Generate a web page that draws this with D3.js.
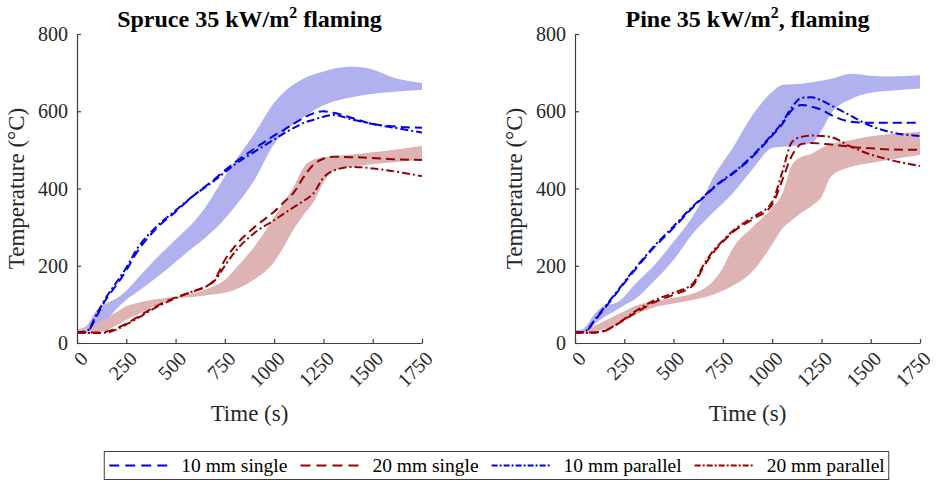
<!DOCTYPE html>
<html>
<head>
<meta charset="utf-8">
<script src="https://cdn.jsdelivr.net/npm/d3@7"></script>
<style>
  body { margin: 0; background: #fff; }
</style>
</head>
<body>
<div id="chart"></div>
<script>
// time grid (s), shared by every series
var timeGrid = [0, 50, 100, 150, 200, 250, 300, 400, 500, 600, 650, 700, 750, 800, 900, 1000, 1050, 1100, 1150, 1200, 1250, 1300, 1400, 1500, 1600, 1750];

// Spruce, temperatures in degC
var spruceBand10Hi = [28, 45, 85, 103, 115, 135, 163, 218, 268, 318, 350, 390, 432, 470, 542, 622, 650, 670, 685, 695, 703, 710, 715, 708, 688, 673];
var spruceBand10Lo = [27, 29, 38, 60, 88, 112, 130, 168, 210, 252, 272, 295, 322, 352, 422, 515, 545, 567, 585, 602, 615, 625, 637, 645, 650, 655];
var spruceBand20Hi = [35, 42, 52, 65, 80, 95, 103, 113, 120, 130, 138, 148, 163, 190, 250, 325, 365, 405, 455, 475, 481, 484, 488, 494, 500, 510];
var spruceBand20Lo = [25, 25, 28, 33, 45, 60, 72, 97, 115, 120, 123, 126, 130, 138, 165, 210, 250, 295, 332, 365, 415, 445, 457, 463, 468, 474];
var spruce10Single = [27, 29, 70, 115, 150, 188, 232, 295, 340, 385, 405, 425, 447, 467, 503, 537, 552, 568, 583, 595, 600, 596, 582, 567, 561, 557];
var spruce20Single = [27, 27, 27, 30, 38, 50, 65, 95, 118, 135, 145, 165, 215, 250, 300, 340, 365, 390, 430, 462, 477, 482, 481, 479, 476, 474];
var spruce10Parallel = [27, 31, 75, 120, 157, 195, 240, 300, 343, 385, 403, 422, 442, 462, 495, 527, 543, 557, 570, 578, 586, 590, 578, 567, 558, 545];
var spruce20Parallel = [27, 26, 26, 27, 35, 48, 62, 92, 116, 136, 145, 162, 200, 235, 285, 318, 335, 352, 368, 388, 428, 446, 456, 452, 445, 432];

// Pine
var pineBand10Hi = [28, 40, 75, 97, 102, 120, 150, 200, 262, 330, 375, 428, 468, 505, 590, 650, 668, 670, 671, 675, 679, 684, 697, 692, 690, 693];
var pineBand10Lo = [27, 32, 50, 68, 82, 98, 112, 160, 215, 285, 312, 338, 362, 388, 450, 505, 508, 510, 513, 517, 550, 595, 632, 648, 653, 659];
var pineBand20Hi = [33, 36, 45, 57, 70, 82, 95, 108, 117, 128, 140, 160, 195, 245, 300, 350, 385, 460, 482, 490, 505, 515, 525, 535, 541, 547];
var pineBand20Lo = [26, 26, 30, 36, 45, 58, 72, 92, 102, 112, 118, 125, 135, 148, 185, 255, 295, 318, 338, 355, 378, 432, 456, 466, 475, 487];
var pine10Single = [27, 29, 58, 90, 122, 155, 187, 247, 298, 352, 376, 400, 420, 438, 482, 537, 566, 603, 616, 612, 604, 590, 573, 570, 570, 570];
var pine20Single = [27, 27, 27, 31, 44, 60, 76, 105, 125, 150, 195, 233, 262, 287, 320, 358, 420, 485, 515, 518, 516, 514, 508, 504, 501, 500];
var pine10Parallel = [27, 30, 60, 93, 125, 158, 190, 250, 302, 355, 378, 402, 422, 440, 485, 540, 570, 610, 635, 636, 628, 615, 588, 562, 546, 536];
var pine20Parallel = [27, 26, 27, 32, 45, 62, 80, 110, 130, 155, 200, 238, 265, 290, 325, 365, 440, 520, 534, 537, 536, 533, 508, 488, 474, 458];

var titles = ['Spruce 35 kW/m', 'Pine 35 kW/m'];
var titleTails = [' flaming', ', flaming'];
var xTicks = [0, 250, 500, 750, 1000, 1250, 1500, 1750];
var yTicks = [0, 200, 400, 600, 800];
var legendLabels = ['10 mm single', '20 mm single', '10 mm parallel', '20 mm parallel'];

function getChart() {
  var attrs = {
    fontFamily: '"Liberation Serif", "Times New Roman", serif',
    svgWidth: 938,
    svgHeight: 482,
    panelLeft: [77, 575],
    panelWidth: 345,
    plotTop: 34,
    plotBottom: 343,
    blue: '#0000e6',
    red: '#990000',
    blueBand: '#b0b1ee',
    redBand: '#ddb3b3',
    axisColor: '#404040',
    textColor: '#262626'
  };

  var dash = '9,5';
  var dashDot = '8,3,2,3';

  var panels = [
    {
      band10: [spruceBand10Lo, spruceBand10Hi],
      band20: [spruceBand20Lo, spruceBand20Hi],
      lines: [spruce10Single, spruce20Single, spruce10Parallel, spruce20Parallel]
    },
    {
      band10: [pineBand10Lo, pineBand10Hi],
      band20: [pineBand20Lo, pineBand20Hi],
      lines: [pine10Single, pine20Single, pine10Parallel, pine20Parallel]
    }
  ];

  var lineStyles = [
    { color: attrs.blue, dash: dash },
    { color: attrs.red, dash: dash },
    { color: attrs.blue, dash: dashDot },
    { color: attrs.red, dash: dashDot }
  ];

  var svg = d3.select('#chart')
    .append('svg')
    .attr('width', attrs.svgWidth)
    .attr('height', attrs.svgHeight)
    .attr('font-family', attrs.fontFamily);

  var y = d3.scaleLinear().domain([0, 800]).range([attrs.plotBottom, attrs.plotTop]);

  panels.forEach(function (p, pi) {
    var left = attrs.panelLeft[pi];
    var x = d3.scaleLinear().domain([0, 1750]).range([left, left + attrs.panelWidth]);
    var g = svg.append('g');

    var area = function (lo, hi) {
      return d3.area()
        .x(function (d, i) { return x(timeGrid[i]); })
        .y0(function (d, i) { return y(lo[i]); })
        .y1(function (d, i) { return y(hi[i]); })
        .curve(d3.curveMonotoneX)(timeGrid);
    };

    g.append('path').attr('d', area(p.band10[0], p.band10[1])).attr('fill', attrs.blueBand);
    g.append('path').attr('d', area(p.band20[0], p.band20[1])).attr('fill', attrs.redBand);

    var line = d3.line()
      .x(function (d, i) { return x(timeGrid[i]); })
      .y(function (d) { return y(d); })
      .curve(d3.curveMonotoneX);

    g.selectAll('.series')
      .data(p.lines)
      .enter()
      .append('path')
      .attr('class', 'series')
      .attr('d', line)
      .attr('fill', 'none')
      .attr('stroke', function (d, i) { return lineStyles[i].color; })
      .attr('stroke-width', 2)
      .attr('stroke-dasharray', function (d, i) { return lineStyles[i].dash; });

    // axes (matlab style, ticks inside)
    var xAxis = g.append('g')
      .attr('transform', 'translate(0,' + attrs.plotBottom + ')')
      .call(d3.axisTop(x).tickValues(xTicks).tickSize(4).tickSizeOuter(0).tickFormat(''));
    var yAxis = g.append('g')
      .attr('transform', 'translate(' + left + ',0)')
      .call(d3.axisRight(y).tickValues(yTicks).tickSize(4).tickSizeOuter(0).tickFormat(''));
    [xAxis, yAxis].forEach(function (a) {
      a.select('.domain').attr('stroke', attrs.axisColor).attr('stroke-width', 1.2);
      a.selectAll('.tick line').attr('stroke', attrs.axisColor).attr('stroke-width', 1.2);
    });

    g.selectAll('.ylab')
      .data(yTicks)
      .enter()
      .append('text')
      .attr('x', left - 9)
      .attr('y', function (d) { return y(d); })
      .attr('dy', '0.35em')
      .attr('text-anchor', 'end')
      .attr('font-size', 20)
      .attr('fill', attrs.textColor)
      .text(function (d) { return d; });

    g.selectAll('.xlab')
      .data(xTicks)
      .enter()
      .append('text')
      .attr('transform', function (d) { return 'translate(' + (x(d) + 7) + ',' + (attrs.plotBottom + 12) + ') rotate(-45)'; })
      .attr('text-anchor', 'end')
      .attr('dy', '0.35em')
      .attr('font-size', 20)
      .attr('fill', attrs.textColor)
      .text(function (d) { return d; });

    var cx = left + attrs.panelWidth / 2;

    var title = g.append('text')
      .attr('x', cx)
      .attr('y', 27)
      .attr('text-anchor', 'middle')
      .attr('font-size', 24)
      .attr('font-weight', 'bold')
      .attr('fill', '#000');
    title.append('tspan').text(titles[pi]);
    title.append('tspan').attr('dy', -9).attr('font-size', 16).text('2');
    title.append('tspan').attr('dy', 9).text(titleTails[pi]);

    g.append('text')
      .attr('x', cx)
      .attr('y', 421)
      .attr('text-anchor', 'middle')
      .attr('font-size', 23)
      .attr('fill', attrs.textColor)
      .text('Time (s)');

    g.append('text')
      .attr('transform', 'translate(' + (left - 53) + ',' + ((attrs.plotTop + attrs.plotBottom) / 2) + ') rotate(-90)')
      .attr('text-anchor', 'middle')
      .attr('font-size', 23)
      .attr('fill', attrs.textColor)
      .text('Temperature (°C)');
  });

  //legend
  var legend = svg.append('g');
  var box = legend.append('rect')
    .attr('fill', '#fff')
    .attr('stroke', attrs.axisColor)
    .attr('stroke-width', 1);
  var cursor = 0;
  legendLabels.forEach(function (label, i) {
    legend.append('line')
      .attr('x1', cursor + 5).attr('x2', cursor + 65)
      .attr('y1', 0).attr('y2', 0)
      .attr('stroke', lineStyles[i].color)
      .attr('stroke-width', 2)
      .attr('stroke-dasharray', i < 2 ? '10,6' : '6,2,2,2');
    var t = legend.append('text')
      .attr('x', cursor + 77)
      .attr('y', 0)
      .attr('dy', '0.35em')
      .attr('font-size', 19.5)
      .attr('fill', '#000')
      .text(label);
    cursor += 77 + t.node().getComputedTextLength() + 8;
  });
  var legendWidth = cursor - 4;
  box.attr('x', 0).attr('y', -14).attr('width', legendWidth).attr('height', 28);
  legend.attr('transform', 'translate(' + (496.5 - legendWidth / 2) + ',465.5)');
}

getChart();
</script>
</body>
</html>
